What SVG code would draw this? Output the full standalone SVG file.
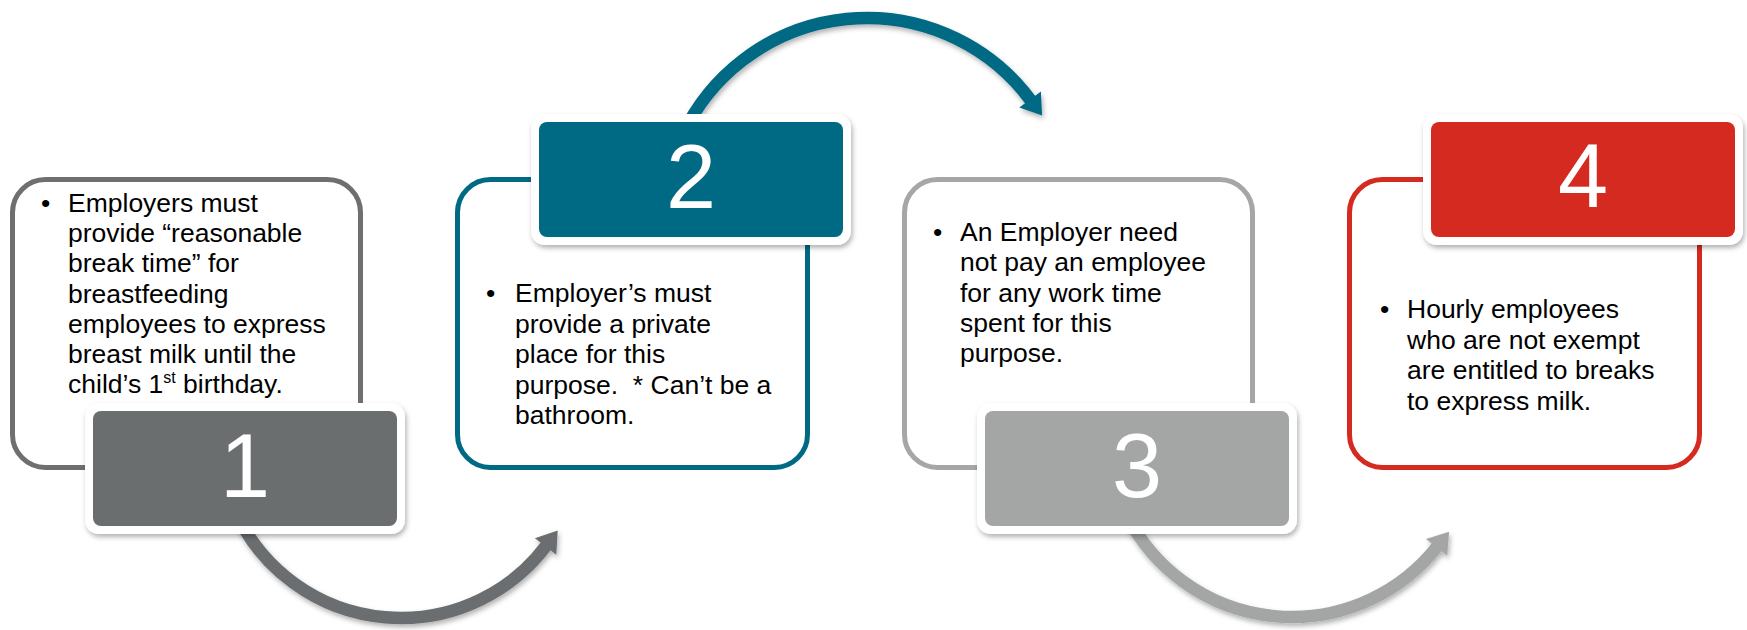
<svg xmlns="http://www.w3.org/2000/svg" width="1747" height="630" viewBox="0 0 1747 630">
  <style>
    .box { fill: #ffffff; stroke-width: 5; }
    .txt { font-family: "Liberation Sans", Arial, sans-serif; font-size: 26.5px; fill: #000000; }
    .num { font-family: "Liberation Sans", Arial, sans-serif; font-size: 90px; fill: #ffffff; text-anchor: middle; }
    .tabouter { fill: #ffffff; }
    .shaft { fill: none; stroke-width: 12.5; stroke-linecap: butt; }
  </style>
  <defs>
    <filter id="shadow" x="-10%" y="-20%" width="125%" height="150%">
      <feDropShadow dx="1.5" dy="3" stdDeviation="2.5" flood-color="#000000" flood-opacity="0.3"/>
    </filter>
  </defs>
  <rect width="1747" height="630" fill="#ffffff"/>

  <g id="node1">
    <rect class="box" x="12.5" y="179.5" width="348" height="288" rx="33" stroke="#6d6f70"/>
    <text class="txt">
      <tspan x="41" y="212">•</tspan>
      <tspan x="68" y="212">Employers must</tspan>
      <tspan x="68" y="242">provide “reasonable</tspan>
      <tspan x="68" y="272">break time” for</tspan>
      <tspan x="68" y="302.5">breastfeeding</tspan>
      <tspan x="68" y="333">employees to express</tspan>
      <tspan x="68" y="363">breast milk until the</tspan>
      <tspan x="68" y="393">child’s 1<tspan font-size="16" dy="-10">st</tspan><tspan dy="10"> birthday.</tspan></tspan>
    </text>
  </g>

  <g id="node2">
    <rect class="box" x="457.5" y="179.5" width="350" height="288" rx="33" stroke="#006983"/>
    <text class="txt">
      <tspan x="486" y="302">•</tspan>
      <tspan x="515" y="302">Employer’s must</tspan>
      <tspan x="515" y="332.5">provide a private</tspan>
      <tspan x="515" y="363">place for this</tspan>
      <tspan x="515" y="393.5" xml:space="preserve">purpose.  * Can’t be a</tspan>
      <tspan x="515" y="424">bathroom.</tspan>
    </text>
  </g>

  <g id="node3">
    <rect class="box" x="904.5" y="179.5" width="348" height="288" rx="33" stroke="#a5a7a6"/>
    <text class="txt">
      <tspan x="933" y="241">•</tspan>
      <tspan x="960" y="241">An Employer need</tspan>
      <tspan x="960" y="271">not pay an employee</tspan>
      <tspan x="960" y="301.5">for any work time</tspan>
      <tspan x="960" y="332">spent for this</tspan>
      <tspan x="960" y="362">purpose.</tspan>
    </text>
  </g>

  <g id="node4">
    <rect class="box" x="1349.5" y="179.5" width="350" height="288" rx="33" stroke="#d42a1f"/>
    <text class="txt">
      <tspan x="1380" y="318">•</tspan>
      <tspan x="1407" y="318">Hourly employees</tspan>
      <tspan x="1407" y="348.5">who are not exempt</tspan>
      <tspan x="1407" y="379">are entitled to breaks</tspan>
      <tspan x="1407" y="409.5">to express milk.</tspan>
    </text>
  </g>

  <g id="connectors">
    <g filter="url(#shadow)">
      <path class="shaft" stroke="#6b6e6f" d="M238.8,518.6 A182,182 0 0 0 546.3,545.5"/>
      <polygon fill="#6b6e6f" points="556.3,554.7 534.9,538.3 557.7,530.6"/>
    </g>
    <g filter="url(#shadow)">
      <path class="shaft" stroke="#006983" d="M682.1,135.8 A204,204 0 0 1 1031.0,100.7"/>
      <polygon fill="#006983" points="1040.9,91.4 1019.3,107.6 1042.1,115.5"/>
    </g>
    <g filter="url(#shadow)">
      <path class="shaft" stroke="#a4a6a5" d="M1127.2,516 A185,185 0 0 0 1437.4,546.4"/>
      <polygon fill="#a4a6a5" points="1447.2,555.8 1426.0,539.0 1449.1,531.8"/>
    </g>
  </g>

  <g id="tab1">
    <rect class="tabouter" x="85" y="403" width="320" height="131" rx="14" filter="url(#shadow)"/>
    <rect x="93" y="411" width="304" height="115" rx="8" fill="#6b6e6f"/>
    <text class="num" x="245" y="497">1</text>
  </g>
  <g id="tab2">
    <rect class="tabouter" x="531" y="114" width="320" height="131" rx="14" filter="url(#shadow)"/>
    <rect x="539" y="122" width="304" height="115" rx="8" fill="#006983"/>
    <text class="num" x="691" y="208">2</text>
  </g>
  <g id="tab3">
    <rect class="tabouter" x="977" y="403" width="320" height="131" rx="14" filter="url(#shadow)"/>
    <rect x="985" y="411" width="304" height="115" rx="8" fill="#a4a6a5"/>
    <text class="num" x="1137" y="497">3</text>
  </g>
  <g id="tab4">
    <rect class="tabouter" x="1423" y="114" width="320" height="131" rx="14" filter="url(#shadow)"/>
    <rect x="1431" y="122" width="304" height="115" rx="8" fill="#d42a1f"/>
    <text class="num" x="1583" y="207">4</text>
  </g>
</svg>
